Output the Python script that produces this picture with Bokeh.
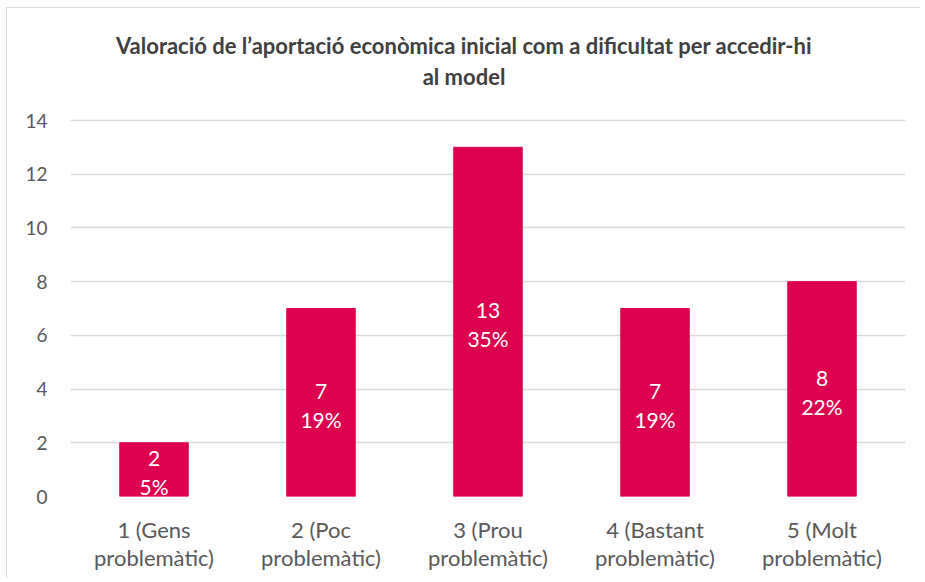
from bokeh.plotting import figure
from bokeh.models import ColumnDataSource, FixedTicker, Range1d
from bokeh.core.properties import value
from bokeh.embed import file_html
from bokeh.resources import INLINE

# Data
categories = ["1 (Gens\nproblemàtic)", "2 (Poc\nproblemàtic)", "3 (Prou\nproblemàtic)",
              "4 (Bastant\nproblemàtic)", "5 (Molt\nproblemàtic)"]
counts = [2, 7, 13, 7, 8]
percents = ["5%", "19%", "35%", "19%", "22%"]
y_ticks = [0, 2, 4, 6, 8, 10, 12, 14]
y_max = 14
title_lines = ["Valoració de l’aportació econòmica inicial com a dificultat per accedir-hi", "al model"]

FONT = "Lato"
BAR = "#DC004E"

# layout (page pixels)
OFF = 9                     # canvas origin on page
W, H = 914, 571
F_LEFT, F_RIGHT, F_TOP, F_BOTTOM = 72, 907, 20, 497
AXIS_TOP = 121              # where y_max sits
px_per_unit = (F_BOTTOM - AXIS_TOP) / y_max
y_end = y_max + (AXIS_TOP - F_TOP) / px_per_unit

xs = list(range(1, len(categories) + 1))
src = ColumnDataSource(dict(
    x=xs, top=counts, mid=[c / 2 for c in counts],
    cnt=[str(c) for c in counts], pct=percents,
))

p = figure(width=W, height=H, output_backend="svg", toolbar_location=None,
           x_range=Range1d(0.5, len(categories) + 0.5), y_range=Range1d(0, y_end),
           min_border_left=F_LEFT - OFF, min_border_right=OFF + W - F_RIGHT,
           min_border_top=F_TOP - OFF, min_border_bottom=OFF + H - F_BOTTOM)
p.styles = {"margin-left": "6px", "margin-top": "7px",
            "border-left": "1px solid #d9d9d9", "border-top": "1px solid #d9d9d9"}
p.outline_line_color = None
p.background_fill_color = "white"
p.border_fill_color = "white"

# Title: two lines of text anchored above the top of the value axis
title_src = ColumnDataSource(dict(x=[3, 3], y=[y_max, y_max], t=title_lines, dy=[-75, -44]))
p.text(x="x", y="y", text="t", y_offset="dy", x_offset=-24, source=title_src,
       text_align="center", text_baseline="middle", text_font=value(FONT),
       text_font_size="22px", text_font_style="bold", text_color="#404040")

p.vbar(x="x", top="top", width=0.41, bottom=0, source=src, fill_color=BAR, line_color=BAR)

p.text(x="x", y="mid", text="cnt", source=src, text_align="center", text_baseline="middle",
       y_offset=-11, text_color="white", text_font=value(FONT), text_font_size="21px")
p.text(x="x", y="mid", text="pct", source=src, text_align="center", text_baseline="middle",
       y_offset=17, text_color="white", text_font=value(FONT), text_font_size="21px")

# Axes
p.yaxis.ticker = FixedTicker(ticks=y_ticks)
p.xaxis.ticker = FixedTicker(ticks=xs)
p.xaxis.major_label_overrides = {x: c for x, c in zip(xs, categories)}
for ax in (p.xaxis[0], p.yaxis[0]):
    ax.axis_line_color = None
    ax.major_tick_line_color = None
    ax.minor_tick_line_color = None
    ax.major_label_text_font = FONT
    ax.major_label_text_color = "#595959"
p.yaxis.major_label_text_font_size = "19px"
p.yaxis.major_label_standoff = 17
p.xaxis.major_label_text_font_size = "22px"
p.xaxis.major_label_text_line_height = 1.05
p.xaxis.major_label_standoff = 13

p.xgrid.grid_line_color = None
p.ygrid.grid_line_color = "#d9d9d9"
p.ygrid.grid_line_width = 1.5

open("out.html", "w").write(file_html(p, INLINE))
